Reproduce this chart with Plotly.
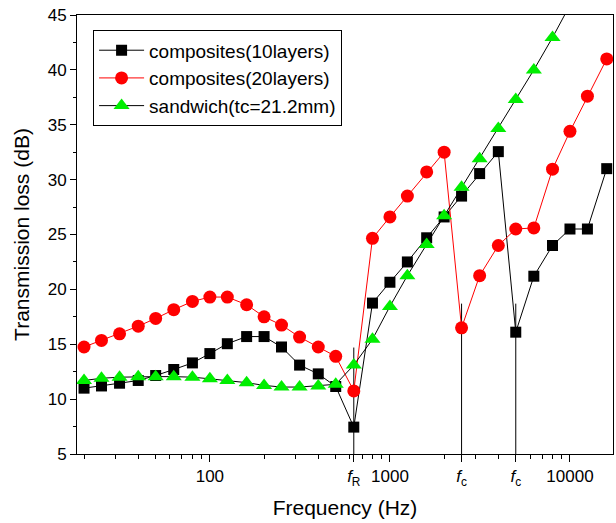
import plotly.graph_objects as go

freq = [20, 25, 31.5, 40, 50, 63, 80, 100, 125, 160, 200, 250, 315, 400, 500,
        630, 800, 1000, 1250, 1600, 2000, 2500, 3150, 4000, 5000, 6300, 8000,
        10000, 12500, 16000]

tl_10 = [11.0, 11.2, 11.45, 11.7, 12.15, 12.7, 13.3, 14.15, 15.05, 15.7, 15.7,
         14.75, 13.1, 12.3, 11.15, 7.45, 18.75, 20.65, 22.5, 24.7, 26.6, 28.5,
         30.55, 32.55, 16.1, 21.2, 24.0, 25.5, 25.5, 31.0]

tl_20 = [14.75, 15.35, 15.95, 16.65, 17.35, 18.15, 18.9, 19.3, 19.3, 18.6,
         17.5, 16.75, 15.65, 14.75, 13.9, 10.75, 24.65, 26.6, 28.5, 30.7, 32.5,
         16.5, 21.25, 24.0, 25.5, 25.6, 30.95, 34.4, 37.6, 41.0]

freq_s = [20, 25, 31.5, 40, 50, 63, 80, 100, 125, 160, 200, 250, 315, 400, 500,
          630, 800, 1000, 1250, 1600, 2000, 2500, 3150, 4000, 5000, 6300, 8000,
          10000]
tl_s = [11.7, 11.9, 12.0, 12.05, 12.05, 12.05, 12.0, 11.85, 11.7, 11.5, 11.25,
        11.1, 11.1, 11.2, 11.35, 13.1, 15.45, 18.45, 21.25, 24.1, 26.7, 29.3,
        31.9, 34.65, 37.3, 40.0, 42.95, 45.9]

# marker lines for characteristic frequencies
mark_freq = [630, 2500, 5000]
mark_top = [14.7, 18.7, 18.7]
mark_text = ["<i>f</i><sub>R</sub>", "<i>f</i><sub>c</sub>", "<i>f</i><sub>c</sub>"]

major_vals = [100, 1000, 10000]
major_text = ["100", "1000", "10000"]
minor_vals = [m * d for d in (10, 100, 1000) for m in range(2, 10)]
minor_vals = [v for v in minor_vals if v not in mark_freq]

FONT = "Liberation Sans, Arial, Helvetica, sans-serif"

fig = go.Figure()

for f, t in zip(mark_freq, mark_top):
    fig.add_trace(go.Scatter(x=[f, f], y=[5, t], mode="lines",
                             line=dict(color="black", width=1),
                             showlegend=False, hoverinfo="skip"))

fig.add_trace(go.Scatter(x=freq, y=tl_10, mode="lines+markers",
                         name="composites(10layers)",
                         line=dict(color="black", width=1),
                         marker=dict(symbol="square", size=11, color="black")))
fig.add_trace(go.Scatter(x=freq, y=tl_20, mode="lines+markers",
                         name="composites(20layers)",
                         line=dict(color="#ff0000", width=1),
                         marker=dict(symbol="circle", size=13, color="#ff0000")))
fig.add_trace(go.Scatter(x=freq_s, y=tl_s, mode="lines+markers",
                         name="sandwich(tc=21.2mm)",
                         line=dict(color="black", width=1),
                         marker=dict(symbol="triangle-up", size=14, color="#00ee00")))

fig.update_layout(
    width=616, height=523,
    margin=dict(l=77, r=3, t=15, b=69),
    paper_bgcolor="white", plot_bgcolor="white",
    font=dict(family=FONT, size=17, color="black"),
    showlegend=True,
    legend=dict(x=0.03, y=0.965, xanchor="left", yanchor="top",
                bgcolor="white", bordercolor="black", borderwidth=1,
                font=dict(size=19), tracegroupgap=0, itemwidth=45),
)

fig.update_xaxes(
    type="log", range=[1.262, 4.239],
    tickmode="array",
    tickvals=major_vals + mark_freq,
    ticktext=major_text + mark_text,
    ticks="outside", ticklen=7, tickwidth=1, tickcolor="black",
    minor=dict(tickmode="array", tickvals=minor_vals, ticks="outside",
               ticklen=4, tickwidth=1, tickcolor="black", showgrid=False),
    showline=True, linecolor="black", linewidth=1, mirror=True,
    showgrid=False, zeroline=False,
    title=dict(text="Frequency (Hz)", font=dict(size=21), standoff=12),
    tickfont=dict(size=17),
)

fig.update_yaxes(
    range=[5, 45], tickmode="linear", tick0=5, dtick=5,
    ticks="outside", ticklen=6, tickwidth=1, tickcolor="black",
    minor=dict(tickmode="linear", dtick=2.5, ticks="outside", ticklen=3,
               tickwidth=1, tickcolor="black", showgrid=False),
    showline=True, linecolor="black", linewidth=1, mirror=True,
    showgrid=False, zeroline=False,
    title=dict(text="Transmission loss (dB)", font=dict(size=21), standoff=12),
    tickfont=dict(size=17),
)

fig.write_html("out.html")
